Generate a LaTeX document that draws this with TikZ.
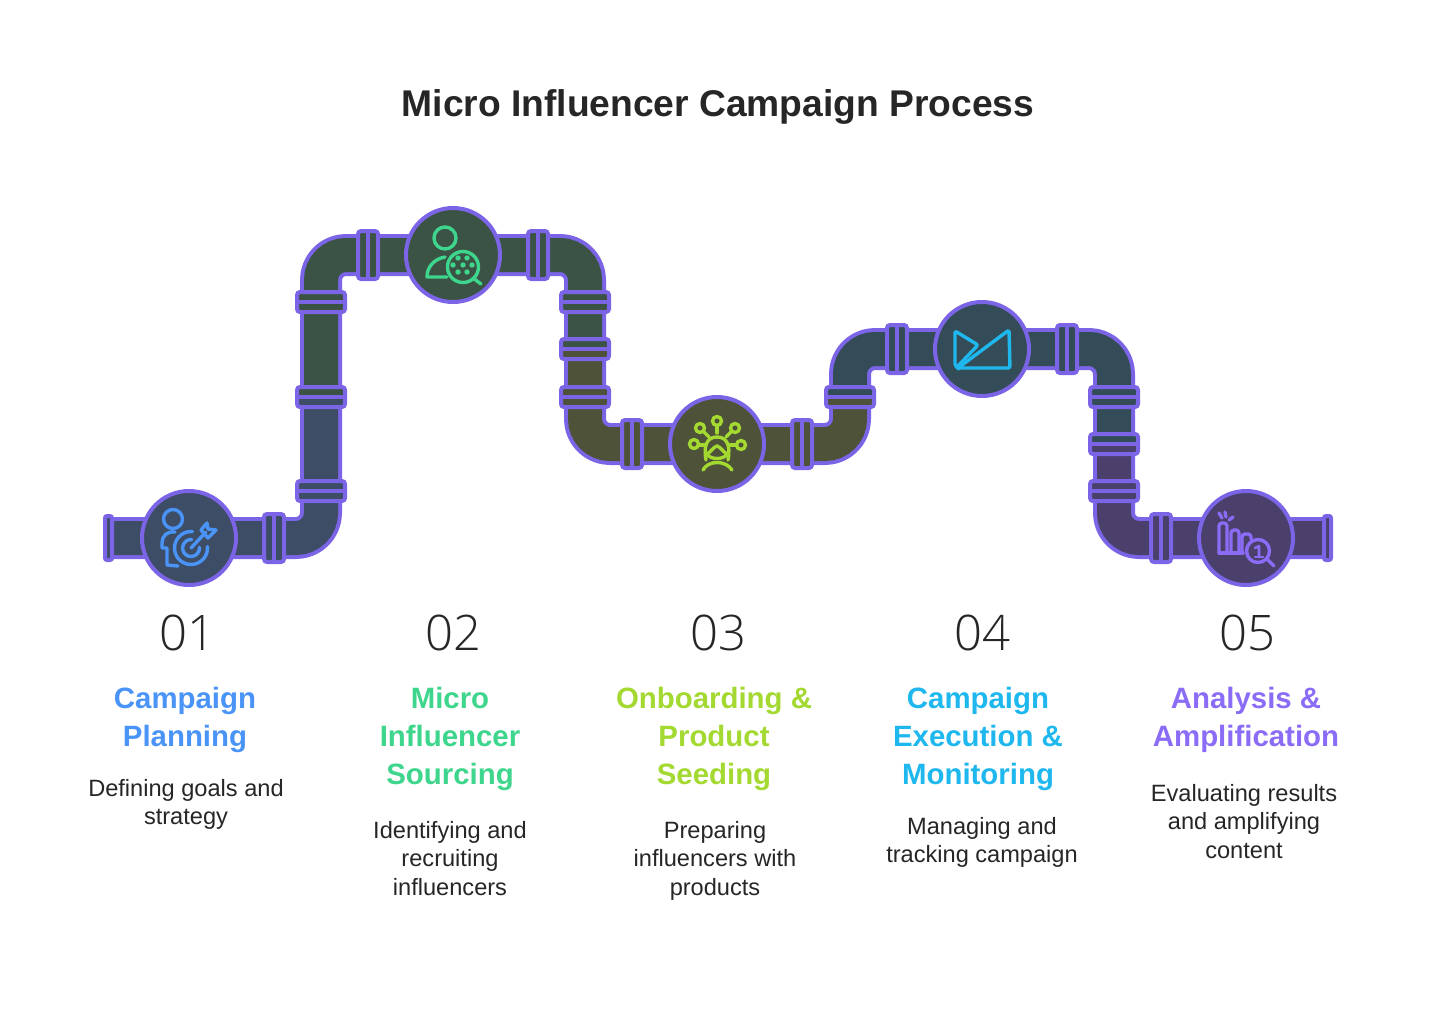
\documentclass[tikz,border=0pt]{standalone}
\usepackage{fontspec}
\setmainfont{Liberation Sans}
\newfontfamily\lightfont{Open Sans Light}
\definecolor{edge}{HTML}{7B64E6}
\definecolor{segA}{HTML}{3D4D66}
\definecolor{segB}{HTML}{3B5345}
\definecolor{segC}{HTML}{4D5239}
\definecolor{segD}{HTML}{344C57}
\definecolor{segE}{HTML}{4B3F6B}
\definecolor{icoA}{HTML}{4A94F8}
\definecolor{icoB}{HTML}{3DD68C}
\definecolor{icoC}{HTML}{A3D930}
\definecolor{icoD}{HTML}{1FB8EE}
\definecolor{icoE}{HTML}{8B6CF6}
\definecolor{ink}{HTML}{262626}
\tikzset{
  shell/.style={draw=edge,line width=42pt,line join=round,rounded corners=25pt},
  core/.style={line width=34pt,rounded corners=25pt},
  flange/.style={draw=edge,line width=4pt,rounded corners=3pt},
  hub/.style={circle,draw=edge,line width=4pt,minimum size=94pt,inner sep=0pt},
  icon/.style={line width=3.4pt,line cap=round,line join=round},
  numlabel/.style={font=\lightfont\fontsize{49}{49}\selectfont,text=ink,anchor=center,inner sep=0pt},
  head/.style={font=\bfseries\fontsize{29.4}{38}\selectfont,align=center,anchor=north,inner sep=0pt},
  desc/.style={font=\fontsize{23.6}{28.5}\selectfont,text=ink,align=center,anchor=north,inner sep=0pt},
}
\newcommand{\hflange}[3]{%
  \fill[#3] (#1-10,#2-24) rectangle (#1+10,#2+24);
  \draw[flange] (#1-10,#2-24) rectangle (#1+10,#2+24);
  \draw[draw=edge,line width=4pt] (#1,#2-24) -- (#1,#2+24);}
\newcommand{\vflange}[4]{%
  \fill[#3] (#1-24,#2-10) rectangle (#1+24,#2);
  \fill[#4] (#1-24,#2) rectangle (#1+24,#2+10);
  \draw[flange] (#1-24,#2-10) rectangle (#1+24,#2+10);
  \draw[draw=edge,line width=4pt] (#1-24,#2) -- (#1+24,#2);}
\begin{document}
\begin{tikzpicture}[x=1pt,y=-1pt]
\useasboundingbox[fill=white] (0,0) rectangle (1440,1020);
\node[font=\bfseries\fontsize{37.2}{44}\selectfont,text=ink,inner sep=0pt] (title) at (718,107) {Micro Influencer Campaign Process};
\coordinate (start) at (110,538);
\coordinate (c1) at (321,538);
\coordinate (c2) at (321,255);
\coordinate (c3) at (585,255);
\coordinate (c4) at (585,444);
\coordinate (c5) at (850,444);
\coordinate (c6) at (850,349);
\coordinate (c7) at (1114,349);
\coordinate (c8) at (1114,538);
\coordinate (finish) at (1328,538);
\draw[shell] (start) -- (c1) -- (c2) -- (c3) -- (c4) -- (c5) -- (c6) -- (c7) -- (c8) -- (finish);
\draw[core,segA] (start) -- (c1) -- (321,397);
\draw[core,segB] (321,397) -- (c2) -- (c3) -- (585,349);
\draw[core,segC] (585,349) -- (c4) -- (c5) -- (850,397);
\draw[core,segD] (850,397) -- (c6) -- (c7) -- (1114,444);
\draw[core,segE] (1114,444) -- (c8) -- (finish);
\fill[segA] (105,516) rectangle (112,560);
\draw[flange,rounded corners=2pt] (105,516) rectangle (112,560);
\fill[segE] (1324,516) rectangle (1331,560);
\draw[flange,rounded corners=2pt] (1324,516) rectangle (1331,560);
\hflange{274}{538}{segA}
\vflange{321}{491}{segA}{segA}
\vflange{321}{397}{segB}{segA}
\vflange{321}{302}{segB}{segB}
\hflange{368}{255}{segB}
\hflange{538}{255}{segB}
\vflange{585}{302}{segB}{segB}
\vflange{585}{349}{segB}{segC}
\vflange{585}{397}{segC}{segC}
\hflange{632}{444}{segC}
\hflange{802}{444}{segC}
\vflange{850}{397}{segD}{segC}
\hflange{897}{349}{segD}
\hflange{1067}{349}{segD}
\vflange{1114}{397}{segD}{segD}
\vflange{1114}{444}{segD}{segE}
\vflange{1114}{491}{segE}{segE}
\hflange{1161}{538}{segE}
\node[hub,fill=segA] (hubA) at (189,538) {};
\node[hub,fill=segB] (hubB) at (453,255) {};
\node[hub,fill=segC] (hubC) at (717,444) {};
\node[hub,fill=segD] (hubD) at (982,349) {};
\node[hub,fill=segE] (hubE) at (1246,538) {};
% icon A
\begin{scope}[shift={(189,538)},icon,draw=icoA]
  \draw (-16,-19) circle (9.5);
  \draw (-14,-6) .. controls (-22,-7) and (-27,-2) .. (-27,5) -- (-27,10) -- (-22,10) -- (-22,27) -- (-11,28);
  \draw (2,10) ++(-5:16.5) arc[start angle=-5,end angle=275,radius=16.5];
  \draw (2,10) ++(-5:8.5) arc[start angle=-5,end angle=275,radius=8.5];
  \draw (2,10) -- (17,-6);
  \draw (12,-8) -- (18,-15) -- (19,-9) -- (27,-8) -- (19,0) -- cycle;
\end{scope}
% icon B
\begin{scope}[shift={(453,255)},icon,draw=icoB]
  \draw (-8,-17) circle (11);
  \draw (-8,2) .. controls (-19,4) and (-26,12) .. (-26,22) -- (-6,22);
  \draw (10,12) circle (15.5);
  \draw (20,23) -- (28,29);
  \foreach \px/\py in {5/3,14/3,0/10,10/10,19/10,5/17,14/17}
    \fill[icoB,draw=none] (\px,\py) circle (2.7);
\end{scope}
% icon C
\begin{scope}[shift={(717,444)},icon,draw=icoC]
  \draw (0,-23) circle (4.5); \draw (0,-18) -- (0,-11);
  \draw (-17,-16) circle (4.5); \draw (-14,-13) -- (-8,-7);
  \draw (18,-16) circle (4.5); \draw (15,-13) -- (9,-7);
  \draw (-23,0) circle (4.5); \draw (-18,1) -- (-12,1);
  \draw (24,1) circle (4.5); \draw (19,1) -- (13,1);
  \draw (-11,16) .. controls (-14,0) and (-9,-7) .. (0,-7) .. controls (9,-7) and (14,0) .. (11,16);
  \draw (-10,10) .. controls (-6,8) and (-4,3) .. (0,2) .. controls (4,3) and (6,8) .. (10,10);
  \draw (-10,10) .. controls (-7,16) and (7,16) .. (10,10);
  \draw (-14,26) .. controls (-9,16) and (9,16) .. (15,26);
\end{scope}
% icon D
\begin{scope}[shift={(982,349)},icon,draw=icoD]
  \draw[rounded corners=2pt] (-23,20) -- (-27,17) -- (-27,-18) -- (-4,-4) -- (-25,18);
  \draw[rounded corners=2pt] (-24,19) -- (27,-19) -- (28,19) -- cycle;
\end{scope}
% icon E
\begin{scope}[shift={(1246,538)},icon,draw=icoE]
  \draw[rounded corners=3pt] (-27,15) -- (-27,-15) -- (-19,-15) -- (-19,15);
  \draw[rounded corners=3pt] (-15,15) -- (-15,-8) -- (-7,-8) -- (-7,15);
  \draw[rounded corners=3pt] (-4,15) -- (-4,-4) -- (5,-4) -- (5,1);
  \draw (-27,15) -- (-3,15);
  \draw (12,13) circle (11.5);
  \draw (21,21) -- (28,28);
  \draw[line width=2.6pt] (9,10) -- (13,8) -- (13,19);
  \draw[line width=2.6pt] (9,19) -- (17,19);
  \draw (-27,-25) -- (-24,-20);
  \draw (-21,-26) -- (-20,-21);
  \draw (-13,-21) -- (-17,-18);
\end{scope}
\node[numlabel] (numA) at (187,633) {01};
\node[numlabel] (numB) at (453,633) {02};
\node[numlabel] (numC) at (718,633) {03};
\node[numlabel] (numD) at (982,633) {04};
\node[numlabel] (numE) at (1247,633) {05};
\node[head,text=icoA] (headA) at (185,687) {Campaign\\Planning};
\node[head,text=icoB] (headB) at (450,687) {Micro\\Influencer\\Sourcing};
\node[head,text=icoC] (headC) at (714,687) {Onboarding \&\\Product\\Seeding};
\node[head,text=icoD] (headD) at (978,687) {Campaign\\Execution \&\\Monitoring};
\node[head,text=icoE] (headE) at (1246,687) {Analysis \&\\Amplification};
\node[desc] (descA) at (186,779) {Defining goals and\\strategy};
\node[desc] (descB) at (450,821) {Identifying and\\recruiting\\influencers};
\node[desc] (descC) at (715,821) {Preparing\\influencers with\\products};
\node[desc] (descD) at (982,817) {Managing and\\tracking campaign};
\node[desc] (descE) at (1244,784) {Evaluating results\\and amplifying\\content};
\end{tikzpicture}
\end{document}
